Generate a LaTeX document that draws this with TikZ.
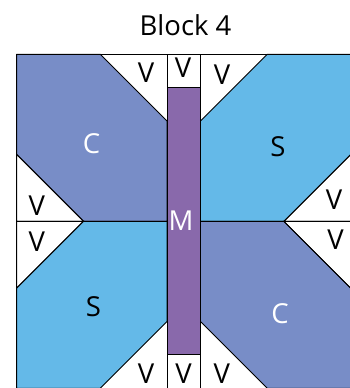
\documentclass[tikz,border=0pt]{standalone}
\usepackage{fontspec}
\setmainfont{Open Sans}
\definecolor{cblue}{HTML}{788DC7}
\definecolor{sblue}{HTML}{64B9E8}
\definecolor{mpurple}{HTML}{8969AB}
\tikzset{
  piece/.style={draw=black, line width=0.9pt, line join=miter},
  lbl/.style={font=\fontsize{27.5}{30}\selectfont, inner sep=0pt, text=black},
  wlbl/.style={lbl, text=white},
}
\begin{document}
\begin{tikzpicture}[x=1pt,y=-1pt]
\useasboundingbox (0,0) rectangle (350,388);
\begin{scope}[shift={(16.7,54.3)}, x=33.4pt, y=-33.4pt]
  % white background of block
  \fill[white] (0,0) rectangle (10,10);
  % big pieces
  \draw[piece, fill=cblue] (0,0) -- (2.5,0) -- (4.5,2) -- (4.5,5) -- (2,5) -- (0,3) -- cycle;
  \draw[piece, fill=sblue] (10,0) -- (7.5,0) -- (5.5,2) -- (5.5,5) -- (8,5) -- (10,3) -- cycle;
  \draw[piece, fill=sblue] (0,10) -- (2.5,10) -- (4.5,8) -- (4.5,5) -- (2,5) -- (0,7) -- cycle;
  \draw[piece, fill=cblue] (10,10) -- (7.5,10) -- (5.5,8) -- (5.5,5) -- (8,5) -- (10,7) -- cycle;
  % centre column
  \draw[piece, fill=mpurple] (4.5,1) rectangle (5.5,9);
  \draw[piece] (4.5,0) rectangle (5.5,1);
  \draw[piece] (4.5,9) rectangle (5.5,10);
  % side triangles
  \draw[piece] (0,3) -- (2,5) -- (0,5) -- cycle;
  \draw[piece] (0,7) -- (2,5) -- (0,5) -- cycle;
  \draw[piece] (10,3) -- (8,5) -- (10,5) -- cycle;
  \draw[piece] (10,7) -- (8,5) -- (10,5) -- cycle;
  % outer border
  \draw[line width=1.2pt] (0,0) rectangle (10,10);
\end{scope}
% labels
\node[lbl] (title) at (185.5,25.5) {Block 4};
\node[wlbl] (c1) at (91.5,144) {C};
\node[lbl] (s1) at (278,147) {S};
\node[lbl] (s2) at (93.5,306.5) {S};
\node[wlbl] (c2) at (280,314) {C};
\node[wlbl] (m) at (181,221) {M};
\node[lbl] (vt1) at (146,73) {V};
\node[lbl] (vt2) at (183,67.5) {V};
\node[lbl] (vt3) at (222,75) {V};
\node[lbl] (vl1) at (36.7,205.5) {V};
\node[lbl] (vl2) at (36.7,242) {V};
\node[lbl] (vr1) at (334,200) {V};
\node[lbl] (vr2) at (335.5,239.5) {V};
\node[lbl] (vb1) at (146,373.5) {V};
\node[lbl] (vb2) at (183.5,373.5) {V};
\node[lbl] (vb3) at (221.7,373.5) {V};
\end{tikzpicture}
\end{document}
